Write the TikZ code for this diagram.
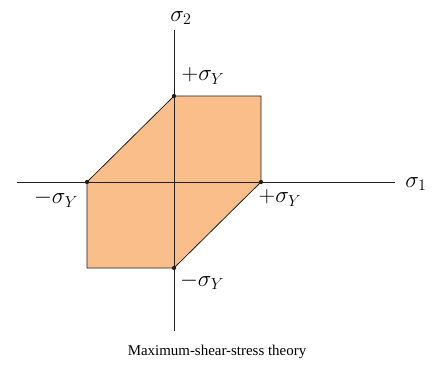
\documentclass[tikz,border=0pt]{standalone}
\usepackage{fontspec}
\setmainfont{Liberation Serif}
\usepackage{xcolor}
\definecolor{zone}{HTML}{F9BE8A}
\definecolor{edge}{HTML}{231F20}
\usetikzlibrary{positioning,calc}
\tikzset{
  axis/.style={draw=edge,line width=0.6pt},
  region/.style={draw=edge,fill=zone,line width=0.6pt},
  pt/.style={circle,fill=edge,inner sep=0pt,minimum size=3.2pt},
  lab/.style={font=\fontsize{17}{20}\selectfont,inner sep=1pt},
  captext/.style={font=\fontsize{11.2}{13}\selectfont},
}
\begin{document}
\begin{tikzpicture}[x=0.75pt,y=0.75pt]
\useasboundingbox (-174,-183) rectangle (260,182);
% axes ends
\coordinate (o) at (0,0);
\coordinate (xl) at (-157,0);
\coordinate (xr) at (221,0);
\coordinate (yt) at (0,152);
\coordinate (yb) at (0,-149);
% yield hexagon
\coordinate (a) at (0,86);
\coordinate (b) at (87,86);
\coordinate (c) at (87,0);
\coordinate (d) at (0,-86);
\coordinate (e) at (-87,-86);
\coordinate (f) at (-87,0);
\draw[region] (a)--(b)--(c)--(d)--(e)--(f)--cycle;
\draw[axis] (xl)--(xr);
\draw[axis] (yb)--(yt);
\foreach \p in {a,c,d,f} \node[pt] at (\p) {};
% labels
\node[lab] (s2) at (7,164) {$\sigma_2$};
\node[lab] (s1) at (242,-2) {$\sigma_1$};
\node[lab] (ptop) at (29,106) {$+\sigma_Y$};
\node[lab] (pright) at (106,-16) {$+\sigma_Y$};
\node[lab] (mleft) at (-118,-17) {$-\sigma_Y$};
\node[lab] (mbot) at (28,-99) {$-\sigma_Y$};
\node[captext] (title) at (43,-170) {Maximum-shear-stress theory};
\end{tikzpicture}
\end{document}
